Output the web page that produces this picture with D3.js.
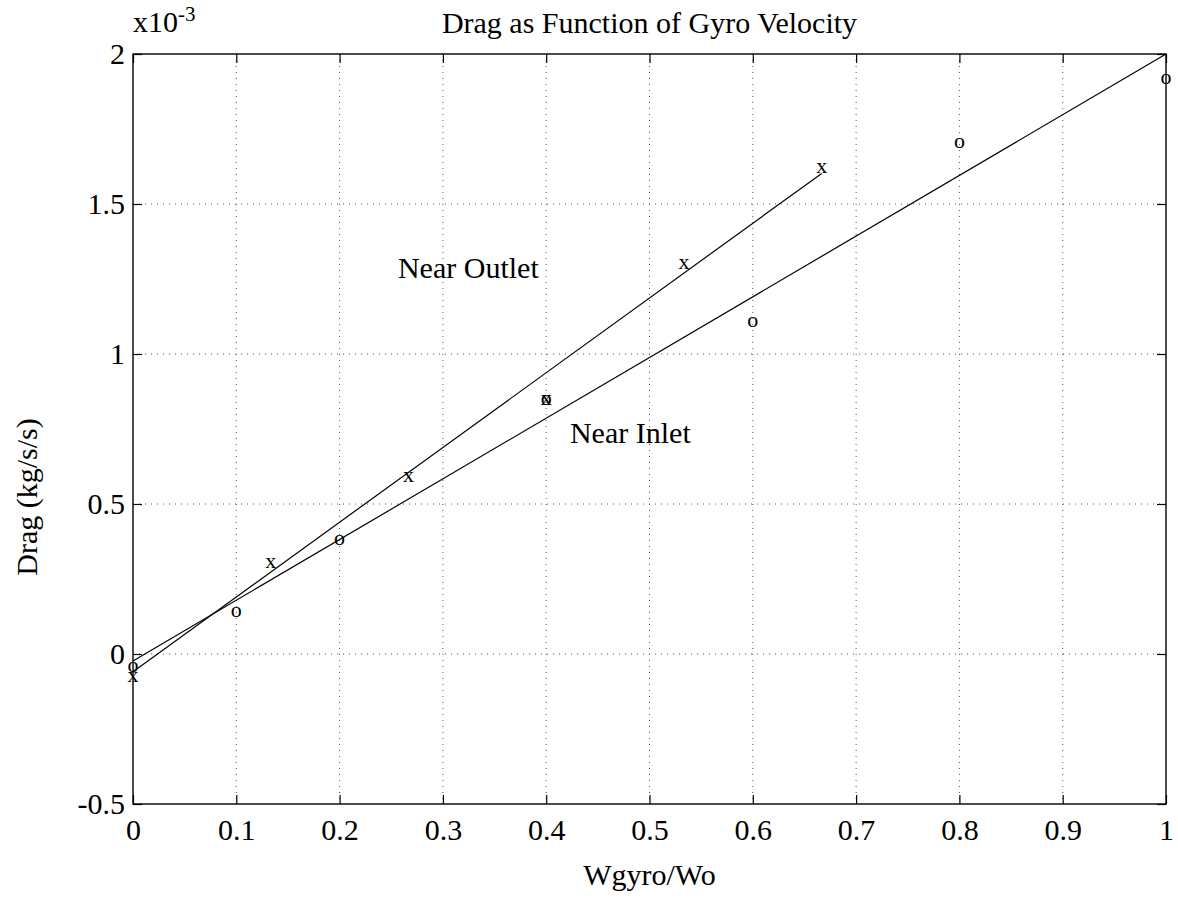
<!DOCTYPE html>
<html><head><meta charset="utf-8">
<script src="https://cdn.jsdelivr.net/npm/d3@7"></script>
<style>body{margin:0;background:#fff}svg text{font-family:"Liberation Serif","Times New Roman",serif;fill:#000}</style>
</head><body><svg id="c" width="1178" height="913"></svg>
<script>
// ---- data ----
const xTicks = [0, 0.1, 0.2, 0.3, 0.4, 0.5, 0.6, 0.7, 0.8, 0.9, 1];
const xTickLabels = ["0", "0.1", "0.2", "0.3", "0.4", "0.5", "0.6", "0.7", "0.8", "0.9", "1"];
const yTicks = [-0.5, 0, 0.5, 1, 1.5, 2];
const yTickLabels = ["-0.5", "0", "0.5", "1", "1.5", "2"];
const outletX = [0, 0.1333, 0.2667, 0.4, 0.5333, 0.6667];
const outletY = [-0.077, 0.303, 0.59, 0.845, 1.30, 1.619];
const inletX = [0, 0.1, 0.2, 0.4, 0.6, 0.8, 1.0];
const inletY = [-0.043, 0.141, 0.378, 0.845, 1.107, 1.703, 1.917];
const outletFitX = [0, 0.6667];
const outletFitY = [-0.059, 1.602];
const inletFitX = [0, 1];
const inletFitY = [-0.023, 2.0];
const titleText = "Drag as Function of Gyro Velocity";
const xLabelText = "Wgyro/Wo";
const yLabelText = "Drag (kg/s/s)";

// ---- layout ----
const FONT = '"Liberation Serif","Times New Roman",serif';
const L = 133, R = 1166, T = 54, B = 804;
const svg = d3.select("#c");
const x = d3.scaleLinear().domain([0, 1]).range([L, R]);
const y = d3.scaleLinear().domain([-0.5, 2]).range([B, T]);

// grid
const g = svg.append("g");
g.selectAll(".gx").data(xTicks.slice(1, -1)).enter().append("line")
  .attr("x1", d => x(d)).attr("x2", d => x(d)).attr("y1", T).attr("y2", B)
  .attr("stroke", "#555").attr("stroke-width", 1).attr("stroke-dasharray", "1,5");
g.selectAll(".gy").data(yTicks.slice(1, -1)).enter().append("line")
  .attr("y1", d => y(d)).attr("y2", d => y(d)).attr("x1", L).attr("x2", R)
  .attr("stroke", "#555").attr("stroke-width", 1).attr("stroke-dasharray", "1,5");

// axes
const fs = 30;
const ax = svg.append("g").attr("transform", `translate(0,${B})`)
  .call(d3.axisBottom(x).tickValues(xTicks).tickFormat((d, i) => xTickLabels[i]).tickSizeInner(-9).tickSizeOuter(0).tickPadding(15));
const ay = svg.append("g").attr("transform", `translate(${L},0)`)
  .call(d3.axisLeft(y).tickValues(yTicks).tickFormat((d, i) => yTickLabels[i]).tickSizeInner(-9).tickSizeOuter(0).tickPadding(8));
const at = svg.append("g").attr("transform", `translate(0,${T})`)
  .call(d3.axisTop(x).tickValues(xTicks).tickFormat("").tickSizeInner(-9).tickSizeOuter(0));
const ar = svg.append("g").attr("transform", `translate(${R},0)`)
  .call(d3.axisRight(y).tickValues(yTicks).tickFormat("").tickSizeInner(-9).tickSizeOuter(0));
[ax, ay, at, ar].forEach(a => {
  a.attr("font-family", FONT).attr("font-size", fs);
  a.selectAll(".domain").remove();
  a.selectAll("line").attr("stroke", "#000").attr("stroke-width", 1.2);
  a.selectAll("text").attr("font-family", FONT).style("font-family", FONT).style("font-size", fs + "px").attr("fill", "#000");
});
svg.append("rect").attr("x", L).attr("y", T).attr("width", R - L).attr("height", B - T)
  .attr("fill", "none").attr("stroke", "#000").attr("stroke-width", 1.4);

// fit lines
const line = d3.line().x(d => x(d[0])).y(d => y(d[1]));
svg.append("path").attr("d", line(outletFitX.map((v, i) => [v, outletFitY[i]])))
  .attr("fill", "none").attr("stroke", "#000").attr("stroke-width", 1.2);
svg.append("path").attr("d", line(inletFitX.map((v, i) => [v, inletFitY[i]])))
  .attr("fill", "none").attr("stroke", "#000").attr("stroke-width", 1.2);

// markers (text glyphs)
const mfs = 22;
svg.selectAll(".mx").data(outletX.map((v, i) => [v, outletY[i]])).enter().append("text")
  .attr("x", d => x(d[0])).attr("y", d => y(d[1]) + mfs * 0.22)
  .attr("text-anchor", "middle").attr("font-family", FONT).style("font-size", mfs + "px").text("x");
svg.selectAll(".mo").data(inletX.map((v, i) => [v, inletY[i]])).enter().append("text")
  .attr("x", d => x(d[0])).attr("y", d => y(d[1]) + mfs * 0.22)
  .attr("text-anchor", "middle").attr("font-family", FONT).style("font-size", mfs + "px").text("o");

// annotations
svg.append("text").attr("x", x(0.2565)).attr("y", y(1.253)).style("font-size", fs + "px").text("Near Outlet");
svg.append("text").attr("x", x(0.423)).attr("y", y(0.703)).style("font-size", fs + "px").text("Near Inlet");

// title, labels
svg.append("text").attr("x", (L + R) / 2).attr("y", 33).attr("text-anchor", "middle").style("font-size", fs + "px").text(titleText);
svg.append("text").attr("x", (L + R) / 2).attr("y", 885).attr("text-anchor", "middle").style("font-size", fs + "px").text(xLabelText);
svg.append("text").attr("transform", `translate(37,${(T + B) / 2 + 68}) rotate(-90)`).attr("text-anchor", "middle").style("font-size", fs + "px").text(yLabelText);
const sc = svg.append("text").attr("x", L).attr("y", 32).style("font-size", fs + "px");
sc.append("tspan").text("x10");
sc.append("tspan").attr("dy", -11).style("font-size", "21px").text("-3");
</script></body></html>
